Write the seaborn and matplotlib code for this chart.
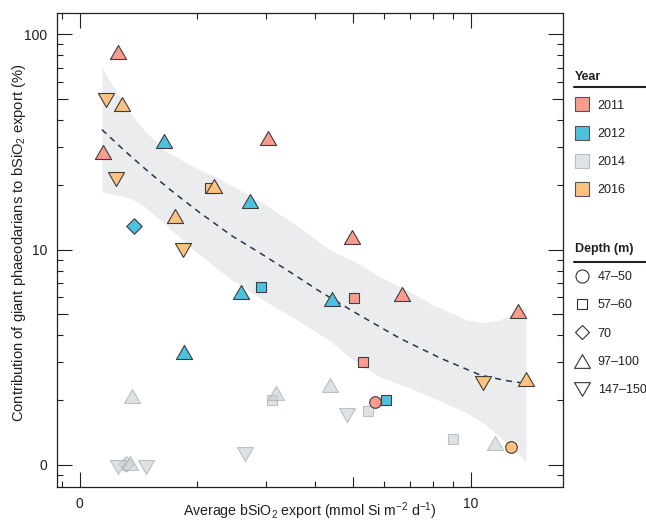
import matplotlib
matplotlib.use("Agg")
import matplotlib.pyplot as plt
import seaborn as sns
import pandas as pd
from matplotlib.ticker import FixedLocator, FixedFormatter, NullFormatter
from matplotlib.lines import Line2D
from matplotlib.path import Path

# ---------------- data ----------------
export = [1.253, 1.165, 1.285, 1.645, 1.145, 1.236, 2.149, 2.208, 1.374, 1.749,
          1.840, 3.03, 2.73, 4.97, 1.845, 1.363, 1.253, 1.313, 1.345, 1.477,
          2.584, 2.906, 4.405, 5.02, 6.65, 5.31, 4.355, 3.175, 3.095, 4.83,
          5.455, 5.69, 6.07, 2.65, 13.16, 10.71, 13.85, 9.01, 11.52, 12.65]
contribution = [82.6, 49.6, 47.5, 32.1, 28.3, 21.4, 19.4, 19.8, 12.9, 14.4,
                10.0, 33.1, 16.8, 11.5, 3.36, 2.10, 0.98, 1.01, 1.02, 0.98,
                6.38, 6.71, 5.90, 5.98, 6.24, 3.00, 2.35, 2.15, 2.00, 1.71,
                1.78, 1.96, 2.00, 1.13, 5.21, 2.41, 2.52, 1.32, 1.27, 1.21]
year = ["2011", "2016", "2016", "2012", "2011", "2016", "2016", "2016", "2012", "2016",
        "2016", "2011", "2012", "2011", "2012", "2014", "2014", "2014", "2014", "2014",
        "2012", "2012", "2012", "2011", "2011", "2011", "2014", "2014", "2014", "2014",
        "2014", "2011", "2012", "2014", "2011", "2016", "2016", "2014", "2014", "2016"]
depth = ["97–100", "147–150", "97–100", "97–100", "97–100", "147–150", "57–60", "97–100", "70", "97–100",
         "147–150", "97–100", "97–100", "97–100", "97–100", "97–100", "147–150", "70", "97–100", "147–150",
         "97–100", "57–60", "97–100", "57–60", "97–100", "57–60", "97–100", "97–100", "57–60", "147–150",
         "57–60", "47–50", "57–60", "147–150", "97–100", "147–150", "97–100", "57–60", "97–100", "47–50"]

year_order = ["2011", "2012", "2014", "2016"]
depth_order = ["47–50", "57–60", "70", "97–100", "147–150"]

# regression curve and confidence band
fit_x = [1.140, 1.305, 1.512, 1.752, 2.030, 2.450, 2.889, 3.446, 4.113, 5.204,
         6.585, 8.333, 10.54, 12.22, 13.82]
fit_y = [36.1, 28.71, 22.69, 18.22, 14.83, 11.59, 9.65, 7.88, 6.39, 4.95,
         3.87, 3.14, 2.62, 2.47, 2.39]
band_x = [1.140, 1.181, 1.231, 1.345, 1.460, 1.642, 1.914, 2.204, 2.450, 2.941,
          3.592, 4.362, 5.114, 5.853, 6.781, 7.994, 9.768, 10.73, 11.86, 12.80, 13.82]
band_hi = [71.1, 62.7, 55.8, 43.1, 35.97, 29.05, 24.74, 21.99, 19.76, 16.48,
           12.89, 9.97, 8.68, 7.47, 6.57, 5.54, 4.72, 4.58, 4.72, 5.07, 5.44]
band_lo = [18.48, 18.34, 18.05, 17.39, 15.96, 13.30, 10.29, 8.40, 7.23, 5.84,
           4.72, 3.77, 2.98, 2.56, 2.32, 2.05, 1.744, 1.567, 1.349, 1.180, 1.036]

x_major = [1, 5, 10]
x_major_labels = ["0", "", "10"]
x_minor = [0.9, 2, 3, 4, 6, 7, 8, 9]
y_major = [1, 5, 10, 50, 100]
y_major_labels = ["0", "", "10", "", "100"]
y_minor = [0.9, 2, 3, 4, 6, 7, 8, 9, 20, 30, 40, 60, 70, 80, 90]

# ---------------- style ----------------
sns.set_theme(style="ticks")
plt.rcParams["font.family"] = ["Liberation Sans", "DejaVu Sans"]
plt.rcParams["mathtext.fontset"] = "custom"
plt.rcParams["mathtext.rm"] = "Liberation Sans"
plt.rcParams["mathtext.it"] = "Liberation Sans:italic"
plt.rcParams["mathtext.bf"] = "Liberation Sans:bold"
INK = "#231f20"

face = {"2011": "#fb9b8e", "2012": "#4cc2df", "2014": "#c9d0d4", "2016": "#fdc27f"}
edge = {"2011": "#3d3d3d", "2012": "#3d3d3d", "2014": "#98a2a8", "2016": "#3d3d3d"}
alpha = {"2011": 1.0, "2012": 1.0, "2014": 0.6, "2016": 1.0}
leg_face = {"2011": "#fb9b8e", "2012": "#4cc2df", "2014": "#e0e4e7", "2016": "#fdc27f"}
leg_edge = {"2011": "#555555", "2012": "#555555", "2014": "#b8bfc3", "2016": "#555555"}

tri_up = Path([(0, 0.866), (-1, -0.866), (1, -0.866), (0, 0.866)],
              [Path.MOVETO, Path.LINETO, Path.LINETO, Path.CLOSEPOLY])
tri_dn = Path([(0, -0.866), (-1, 0.866), (1, 0.866), (0, -0.866)],
              [Path.MOVETO, Path.LINETO, Path.LINETO, Path.CLOSEPOLY])
marker_of = {"47–50": "o", "57–60": "s", "70": "D", "97–100": tri_up, "147–150": tri_dn}
size_of = {"47–50": 70, "57–60": 60, "70": 62, "97–100": 135, "147–150": 135}

df = pd.DataFrame({"export": export, "contribution": contribution,
                   "year": year, "depth": depth})

fig = plt.figure(figsize=(6.46, 5.22), dpi=100)
ax = fig.add_axes([57 / 646, 1 - 487 / 522, (563 - 57) / 646, (487 - 13) / 522])
ax.set_xscale("log")
ax.set_yscale("log")

# confidence band and fitted curve
ax.fill_between(band_x, band_lo, band_hi, color="#ebeced", lw=0, zorder=1)
sns.lineplot(x=fit_x, y=fit_y, ax=ax, color="#2b3447", lw=1.1,
             linestyle=(0, (3.9, 3.4)), estimator=None, sort=False, zorder=2)

# points: 2014 drawn first (behind), then other years
for yr in ["2014", "2011", "2012", "2016"]:
    for dp in depth_order:
        sub = df[(df["year"] == yr) & (df["depth"] == dp)]
        if sub.empty:
            continue
        sns.scatterplot(data=sub, x="export", y="contribution", ax=ax,
                        marker=marker_of[dp], s=size_of[dp],
                        color=face[yr], edgecolor=edge[yr], linewidth=0.8,
                        alpha=alpha[yr], legend=False, zorder=3)

ax.set_xlim(0.875, 17.18)
ax.set_ylim(0.79, 125.7)

# ticks
ax.xaxis.set_major_locator(FixedLocator(x_major))
ax.xaxis.set_major_formatter(FixedFormatter(x_major_labels))
ax.xaxis.set_minor_locator(FixedLocator(x_minor))
ax.xaxis.set_minor_formatter(NullFormatter())
ax.yaxis.set_major_locator(FixedLocator(y_major))
ax.yaxis.set_major_formatter(FixedFormatter(y_major_labels))
ax.yaxis.set_minor_locator(FixedLocator(y_minor))
ax.yaxis.set_minor_formatter(NullFormatter())
ax.tick_params(which="major", direction="in", length=10.8, width=0.8,
               top=True, right=True, labelsize=10, pad=7, color=INK, labelcolor=INK)
ax.tick_params(which="minor", direction="in", length=4.2, width=0.8,
               top=True, right=True, color=INK)
for t, v in zip(ax.xaxis.get_major_ticks(), x_major):
    if v == 5:
        t.tick1line.set_markersize(7.2)
        t.tick2line.set_markersize(7.2)
for t, v in zip(ax.yaxis.get_major_ticks(), y_major):
    if v in (5, 50):
        t.tick1line.set_markersize(7.8)
        t.tick2line.set_markersize(7.8)

for sp in ax.spines.values():
    sp.set_color(INK)
    sp.set_linewidth(0.9)

ax.set_xlabel("Average bSiO$_2$ export (mmol Si m$^{-2}$ d$^{-1}$)", fontsize=10.2, color=INK)
ax.set_ylabel("Contribution of giant phaeodarians to bSiO$_2$ export (%)", fontsize=10.6, color=INK)
ax.xaxis.set_label_coords(0.5, -0.05)
ax.xaxis.label.set_verticalalignment("center")
ax.yaxis.set_label_coords(-0.075, 0.515)
ax.yaxis.label.set_verticalalignment("center")

# legends
fs = 9
yr_handles = [Line2D([], [], ls="", marker="s", markersize=10,
                     markerfacecolor=leg_face[y], markeredgecolor=leg_edge[y],
                     markeredgewidth=0.8) for y in year_order]
dp_markers = {"47–50": ("o", 9.4), "57–60": ("s", 7.8), "70": ("D", 7.6),
              "97–100": (tri_up, 11.4), "147–150": (tri_dn, 11.4)}
dp_handles = [Line2D([], [], ls="", marker=dp_markers[d][0], markersize=dp_markers[d][1],
                     markerfacecolor="white", markeredgecolor="#333333",
                     markeredgewidth=0.8) for d in depth_order]
common = dict(loc="upper left", frameon=False, fontsize=fs,
              title_fontproperties={"weight": "bold", "size": fs},
              alignment="left", handlelength=1.12, handletextpad=0.7,
              labelspacing=1.3, borderpad=0, borderaxespad=0, labelcolor=INK)
leg1 = fig.legend(yr_handles, year_order, title="Year",
                  bbox_to_anchor=(575 / 646, 1 - 71.5 / 522), **common)
leg2 = fig.legend(dp_handles, depth_order, title="Depth (m)",
                  bbox_to_anchor=(575 / 646, 1 - 243 / 522), **common)
for lg in (leg1, leg2):
    lg.get_title().set_color(INK)
fig.add_artist(Line2D([574 / 646, 1.0], [1 - 87 / 522] * 2, transform=fig.transFigure,
                      color=INK, lw=1.5))
fig.add_artist(Line2D([574 / 646, 1.0], [1 - 262 / 522] * 2, transform=fig.transFigure,
                      color=INK, lw=1.5))

fig.savefig("out.png", dpi=100)
